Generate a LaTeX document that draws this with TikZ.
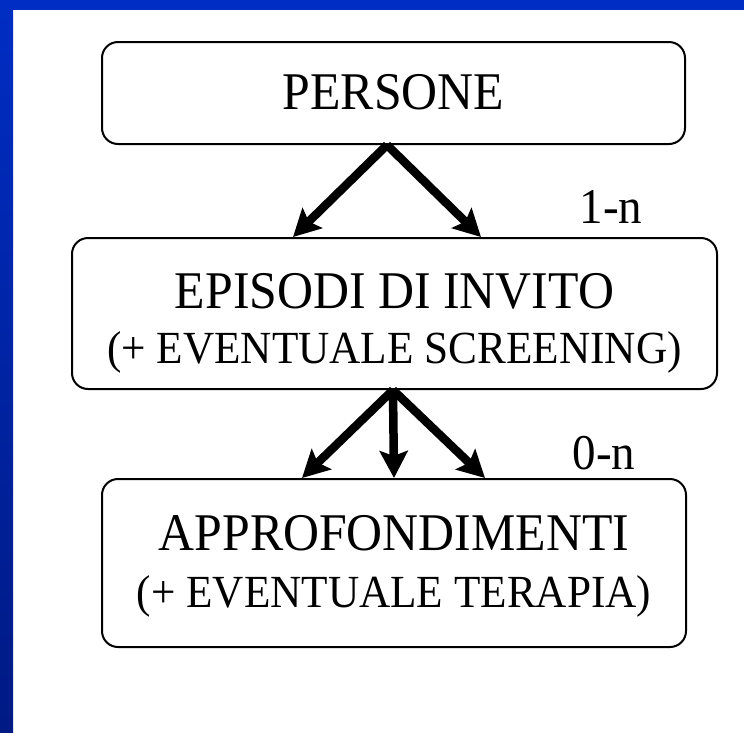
\documentclass[tikz,border=0pt]{standalone}
\usepackage{fontspec}
\setmainfont[FakeStretch=0.94]{Liberation Serif}
\usetikzlibrary{arrows.meta}
\definecolor{frameBlue}{RGB}{0,45,195}
\definecolor{frameBlueDark}{RGB}{0,26,132}

\begin{document}
\begin{tikzpicture}[x=1pt, y=-1pt, ->, >={Stealth[length=27pt,width=28pt,inset=5pt]}]
        \tikzset{
           box/.style={
                        rectangle,
                        rounded corners=16pt,
                        draw=black,
                        line width=2pt,
                        fill=white,
                        text=black,
                        inner sep=0pt,
                        align=center,
                        font=\fontsize{53}{55}\selectfont
                       },
           card/.style={
                        text=black,
                        inner sep=0pt,
                        font=\fontsize{50}{60}\selectfont
                       },
           link/.style={
                        every edge/.style={draw=black, line width=8.5pt}
                       },
                 }
    %--------------------
        \useasboundingbox (0,0) rectangle (744,732);
        \fill[white, -] (0,0) rectangle (744,732);
        \fill[frameBlue, -] (0,0) rectangle (744,10);
        \shade[top color=frameBlue, bottom color=frameBlueDark, -] (0,0) rectangle (13,732);
    %--------------------
        \node[box, minimum width=583pt, text height=67pt, text depth=35pt] (persone)  at (393.5,93)  {PERSONE};

        \node[box, minimum width=645pt, text height=125pt, text depth=26pt] (episodi)  at (394.5,313.5)
             {EPISODI DI INVITO\\{\fontsize{46}{55}\selectfont (+ EVENTUALE SCREENING)}};

        \node[box, minimum width=584pt, text height=128pt, text depth=40pt, font=\fontsize{53}{57}\selectfont] (approf) at (394,563)
             {APPROFONDIMENTI\\{\fontsize{46}{57}\selectfont (+ EVENTUALE TERAPIA)}};

        \node[card, anchor=base] (cardEpisodi) at (611,223) {1-n};
        \node[card, anchor=base] (cardApprof)  at (604,469) {0-n};
    %--------------------
        \path[link] ([xshift=-6.5pt]persone.south) edge ([xshift=-101.5pt]episodi.north)
              ([xshift=-6.5pt]persone.south) edge ([xshift=86.5pt]episodi.north)

              ([xshift=-1.5pt]episodi.south) edge ([xshift=-92pt]approf.north)
              ([xshift=-1.5pt]episodi.south) edge (approf.north)
              ([xshift=-1.5pt]episodi.south) edge ([xshift=91pt]approf.north);
    \end{tikzpicture}
\end{document}
